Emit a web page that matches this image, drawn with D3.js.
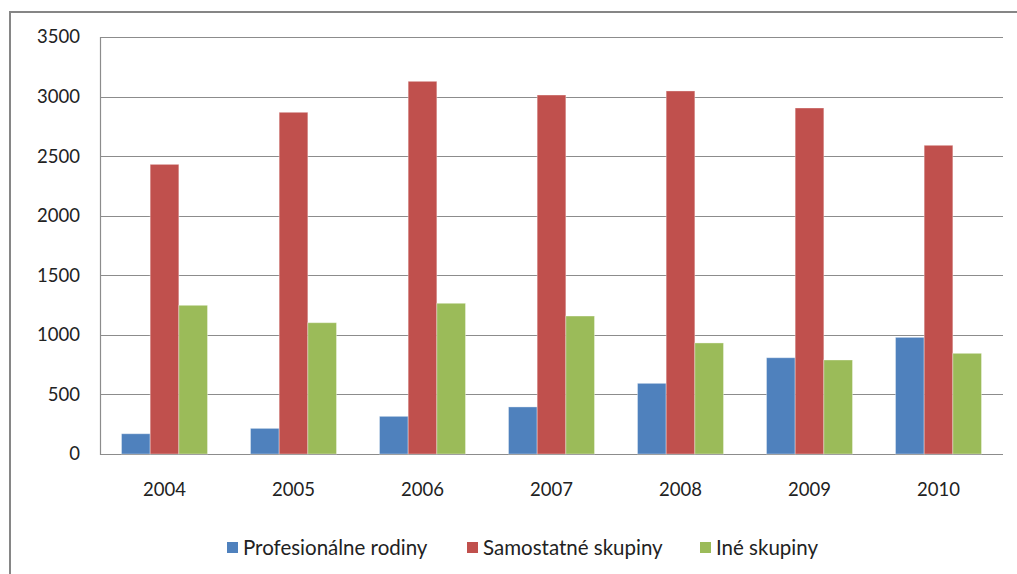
<!DOCTYPE html>
<html>
<head>
<meta charset="utf-8">
<script src="https://cdn.jsdelivr.net/npm/d3@7"></script>
<style>
  body { margin: 0; background: #fff; }
  text { font-family: Lato, "Open Sans", sans-serif; fill: #222; }
</style>
</head>
<body>
<svg width="1017" height="574"></svg>
<script>
var years = ["2004", "2005", "2006", "2007", "2008", "2009", "2010"];
var seriesNames = ["Profesionálne rodiny", "Samostatné skupiny", "Iné skupiny"];
var seriesColors = ["#4F81BD", "#C0504D", "#9BBB59"];
var profesionalne = [170, 215, 316, 395, 593, 808, 979];
var samostatne = [2431, 2868, 3128, 3013, 3047, 2904, 2591];
var ine = [1248, 1102, 1265, 1158, 932, 789, 845];
var yTicks = [0, 500, 1000, 1500, 2000, 2500, 3000, 3500];

var values = [profesionalne, samostatne, ine];

var svg = d3.select("svg");

// outer chart frame (runs off the right and bottom edges)
svg.append("rect")
	.attr("x", 10).attr("y", 12)
	.attr("width", 1020).attr("height", 580)
	.attr("fill", "none")
	.attr("stroke", "#868686")
	.attr("stroke-width", 2);

var plotLeft = 100, plotRight = 1003, plotTop = 37, plotBottom = 454;

var x = d3.scaleBand().domain(years).range([plotLeft, plotRight]).paddingInner(1.5 / 4.5).paddingOuter(0.75 / 4.5);
var x1 = d3.scaleBand().domain(d3.range(3)).range([0, x.bandwidth()]);
var y = d3.scaleLinear().domain([0, 3500]).range([plotBottom, plotTop]);

// gridlines
svg.append("g").selectAll("line")
	.data(yTicks)
	.join("line")
	.attr("x1", plotLeft).attr("x2", plotRight)
	.attr("y1", function(d){ return Math.round(y(d)) + 0.5; })
	.attr("y2", function(d){ return Math.round(y(d)) + 0.5; })
	.attr("stroke", "#8c8c8c")
	.attr("stroke-width", 1.2);

// y axis line
svg.append("line")
	.attr("x1", plotLeft + 0.5).attr("x2", plotLeft + 0.5)
	.attr("y1", Math.round(y(3500))).attr("y2", Math.round(y(0)) + 1)
	.attr("stroke", "#8c8c8c")
	.attr("stroke-width", 1.2);

// y labels
svg.append("g").selectAll("text")
	.data(yTicks)
	.join("text")
	.attr("x", 80)
	.attr("y", function(d){ return y(d); })
	.attr("dy", "0.35em")
	.attr("text-anchor", "end")
	.attr("font-size", 18.5)
	.text(function(d){ return d; });

// bars
var groups = svg.append("g").selectAll("g")
	.data(years)
	.join("g")
	.attr("transform", function(d){ return "translate(" + x(d) + ",0)"; });

groups.selectAll("rect")
	.data(function(d, i){ return values.map(function(s, k){ return {k: k, v: s[i]}; }); })
	.join("rect")
	.attr("x", function(d){ return x1(d.k); })
	.attr("width", x1.bandwidth())
	.attr("y", function(d){ return y(d.v); })
	.attr("height", function(d){ return y(0) - y(d.v); })
	.attr("fill", function(d){ return seriesColors[d.k]; })
	.attr("stroke", "rgba(255,255,255,0.35)")
	.attr("stroke-width", 1);

// x labels
svg.append("g").selectAll("text")
	.data(years)
	.join("text")
	.attr("x", function(d){ return x(d) + x.bandwidth() / 2; })
	.attr("y", 490)
	.attr("dy", "0.35em")
	.attr("text-anchor", "middle")
	.attr("font-size", 18.5)
	.text(function(d){ return d; });

// legend
var legendX = [227, 467, 700];
var legend = svg.append("g").selectAll("g")
	.data(seriesNames)
	.join("g")
	.attr("transform", function(d, i){ return "translate(" + legendX[i] + ",548)"; });

legend.append("rect")
	.attr("x", 0).attr("y", -6)
	.attr("width", 11).attr("height", 11)
	.attr("fill", function(d, i){ return seriesColors[i]; });

legend.append("text")
	.attr("x", 16)
	.attr("y", 0)
	.attr("dy", "0.35em")
	.attr("font-size", 20.5)
	.text(function(d){ return d; });
</script>
</body>
</html>
